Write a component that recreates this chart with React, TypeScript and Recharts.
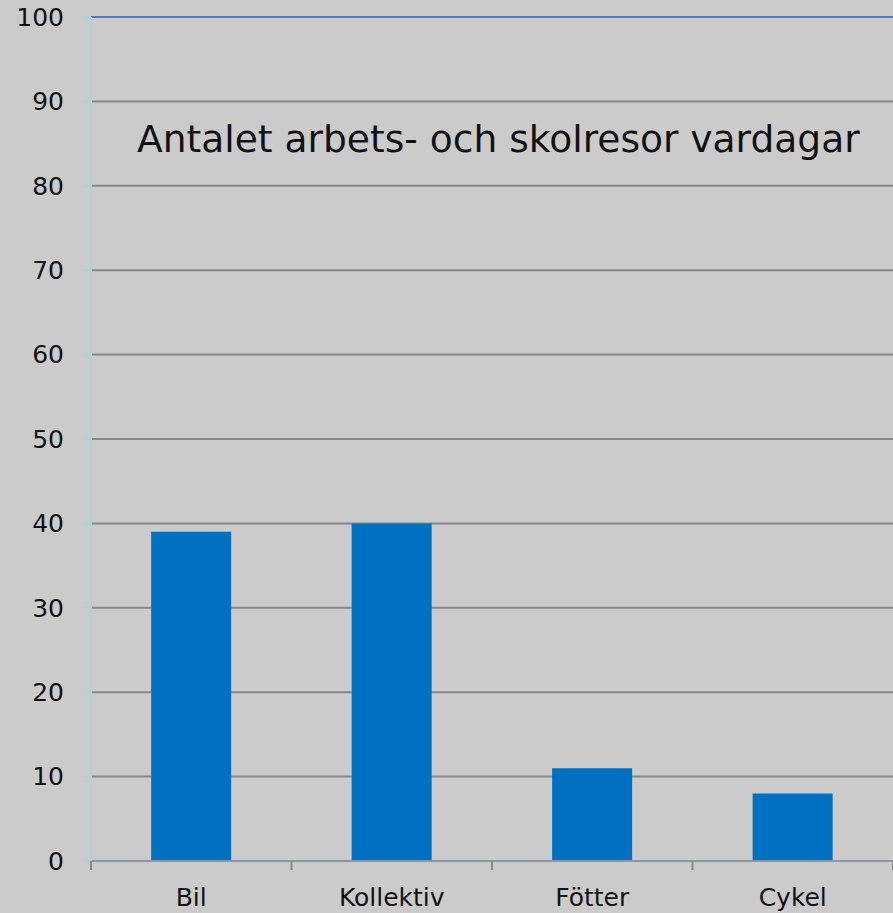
import { BarChart, Bar, XAxis, YAxis, CartesianGrid, ReferenceLine } from 'recharts'

const categories = ['Bil', 'Kollektiv', 'Fötter', 'Cykel']
const trips = [39, 40, 11, 8]
const yTicks = [0, 10, 20, 30, 40, 50, 60, 70, 80, 90, 100]
const TITLE = 'Antalet arbets- och skolresor vardagar'

const data = categories.map((name, i) => ({ name, value: trips[i] }))

const W = 893
const H = 913
const FONT = '"DejaVu Sans", Verdana, sans-serif'
const BG = '#cbcbcb'
const GRID = '#888888'
const Y_AXIS = '#a9d3e3'
const X_AXIS = '#8c97a6'
const BAR = '#0070c0'

const AXIS_TEXT = { fill: '#111', fontSize: 25, fontFamily: FONT }

// category tick: label in the middle, tick mark on the left band edge
function CatTick(props: any) {
  const { x, y, payload } = props
  const half = payload?.offset ?? 100.25
  return (
    <g>
      <line x1={x - half} x2={x - half} y1={y} y2={y + 9} stroke={GRID} strokeWidth={2} />
      {payload?.index === categories.length - 1 && (
        <line x1={x + half} x2={x + half} y1={y} y2={y + 9} stroke={GRID} strokeWidth={2} />
      )}
      <text x={x} y={y + 45} textAnchor="middle" {...AXIS_TEXT}>{payload.value}</text>
    </g>
  )
}

export default function App() {
  return (
    <div style={{ position: 'absolute', left: 0, top: 0, width: W, height: H, background: BG, overflow: 'hidden' }}>
      <BarChart width={W} height={H} data={data} barCategoryGap="30%" margin={{ top: 17, right: 0, left: 0, bottom: 0 }}>
        <CartesianGrid vertical={false} stroke={GRID} strokeWidth={2} />
        <ReferenceLine y={100} stroke="#4f7fbc" strokeWidth={2} />
        <XAxis
          dataKey="name"
          height={52}
          axisLine={{ stroke: X_AXIS, strokeWidth: 2 }}
          tickLine={false}
          tickSize={0}
          tickMargin={0}
          tick={<CatTick />}
          interval={0}
        />
        <YAxis
          width={91}
          domain={[0, 100]}
          ticks={yTicks}
          interval={0}
          axisLine={{ stroke: Y_AXIS, strokeWidth: 2 }}
          tickLine={{ stroke: Y_AXIS, strokeWidth: 2 }}
          tickSize={8}
          tickMargin={19}
          tick={AXIS_TEXT}
        />
        <Bar dataKey="value" fill={BAR} isAnimationActive={false} />
      </BarChart>
      <svg width={W} height={H} style={{ position: 'absolute', left: 0, top: 0, pointerEvents: 'none' }}>
        <text x={137} y={152} fontSize={37.6} fontFamily={FONT} fill="#111">{TITLE}</text>
      </svg>
    </div>
  )
}
